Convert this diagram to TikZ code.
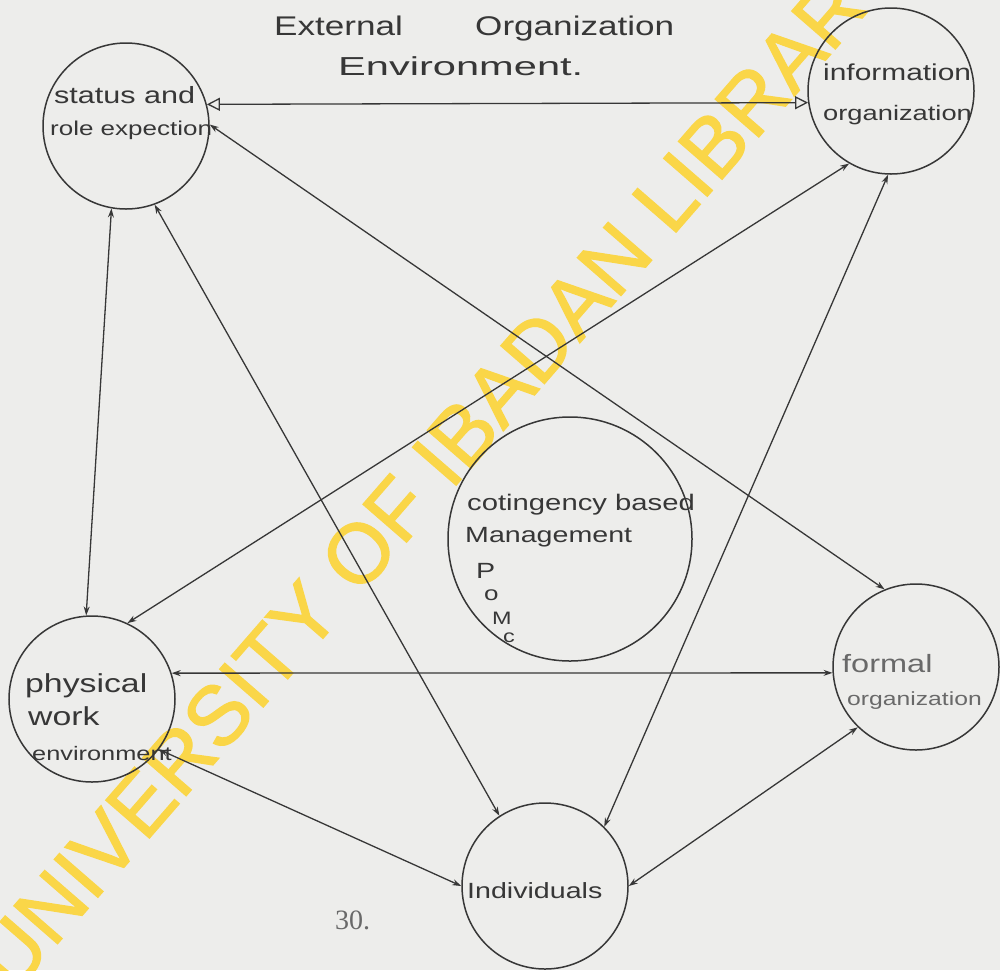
\documentclass[tikz,border=0pt]{standalone}
\usepackage{fontspec}
\setmainfont{Liberation Sans}
\newfontfamily\hand[FakeStretch=1.3]{Liberation Sans}
\newfontfamily\handwide[FakeStretch=1.6]{Liberation Sans}
\newfontfamily\wmfont[FakeBold=1.5]{Liberation Sans}
\newfontfamily\serifnum{Liberation Serif}
\usetikzlibrary{arrows.meta}
\definecolor{paper}{RGB}{237,237,235}
\definecolor{ink}{RGB}{55,55,55}
\definecolor{faint}{RGB}{105,105,105}
\definecolor{wmyellow}{RGB}{250,214,72}
\newcommand{\hs}[1]{\hand\fontsize{#1}{#1}\selectfont}
\newcommand{\hw}[1]{\handwide\fontsize{#1}{#1}\selectfont}
\begin{document}
\begin{tikzpicture}[x=1pt,y=-1pt,
  bub/.style={circle,draw=ink,line width=1.5pt,inner sep=0pt,minimum size=166pt},
  bigbub/.style={circle,draw=ink,line width=1.5pt,inner sep=0pt,minimum size=244pt},
  conn/.style={draw=ink,line width=1.3pt,arrows={Stealth[length=9pt,width=6pt]-Stealth[length=9pt,width=6pt]}},
  openconn/.style={draw=ink,line width=1.3pt,arrows={Triangle[open,length=13pt,width=13pt]-Triangle[open,length=13pt,width=13pt]}},
  lbl/.style={inner sep=0pt,anchor=base west,text=ink},
  flbl/.style={inner sep=0pt,anchor=base west,text=faint},
]
\useasboundingbox (0,0) rectangle (1000,970);
\fill[paper] (0,0) rectangle (1000,970);
\clip (0,0) rectangle (1000,970);

% watermark
\node[rotate=49,inner sep=0pt,text=wmyellow,font=\wmfont\fontsize{84}{84}\selectfont] (wm) at (438,462) {UNIVERSITY OF IBADAN LIBRARY};

% circles
\node[bub] (S) at (126,126) {};
\node[bub] (I) at (891,91) {};
\node[bigbub] (C) at (570,539) {};
\node[bub] (P) at (92,699) {};
\node[bub] (F) at (916,667) {};
\node[bub] (N) at (545,886) {};

% connectors
\draw[openconn] (S.15) -- (I.-172);
\draw[conn] (S.-100) -- (P.94);
\draw[conn] (S.-70) -- (N.123);
\draw[conn] (S.1) -- (F.112);
\draw[conn] (P.65) -- (I.-120);
\draw[conn] (P.18) -- (F.-176);
\draw[conn] (P.-37) -- (N.180);
\draw[conn] (I.-92) -- (N.45);
\draw[conn] (F.-134) -- (N.0);

% title
\node[lbl,font=\hs{27}] (t1) at (274,35) {External};
\node[lbl,font=\hs{27}] (t2) at (475,35) {Organization};
\node[lbl,font=\hw{26}] (t3) at (338,75) {Environment.};

% labels
\node[lbl,font=\hs{23.5}] (s1) at (54,103) {status and};
\node[lbl,font=\hs{20}] (s2) at (50,135) {role expection};

\node[lbl,font=\hs{23}] (i1) at (823,80) {information};
\node[lbl,font=\hs{21}] (i2) at (823,120) {organization};

\node[lbl,font=\hs{22.5}] (c1) at (467,510) {cotingency based};
\node[lbl,font=\hs{22}] (c2) at (465,542) {Management};
\node[lbl,font=\hs{22}] (c3) at (476,578) {P};
\node[lbl,font=\hs{20}] (c4) at (484,600) {o};
\node[lbl,font=\hs{18}] (c5) at (492,624) {M};
\node[lbl,font=\hs{18}] (c6) at (503,642) {c};

\node[lbl,font=\hs{26}] (p1) at (25,692) {physical};
\node[lbl,font=\hs{26}] (p2) at (28,725) {work};
\node[lbl,font=\hs{19.5}] (p3) at (32,760) {environment};

\node[flbl,font=\hs{25}] (f1) at (842,672) {formal};
\node[flbl,font=\hs{19}] (f2) at (847,705) {organization};

\node[lbl,font=\hs{22}] (n1) at (467,898) {Individuals};

\node[inner sep=0pt,anchor=base west,text=faint,font=\serifnum\fontsize{28}{28}\selectfont] (pg) at (335,929) {30.};
\end{tikzpicture}
\end{document}
